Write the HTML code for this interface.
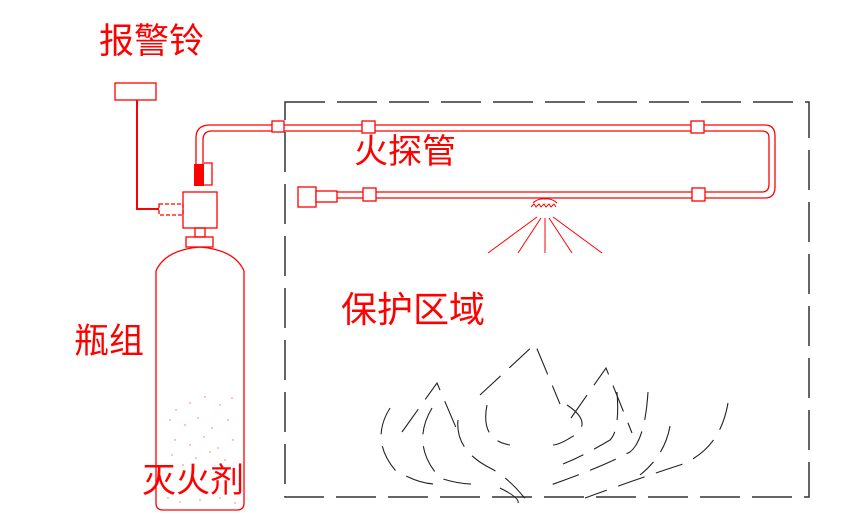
<!DOCTYPE html>
<html><head><meta charset="utf-8"><style>
html,body{margin:0;padding:0;background:#fff;}
svg{display:block;}
text{font-family:"Liberation Sans","Noto Sans CJK SC",sans-serif;fill:#f00;}
</style></head><body>
<svg width="857" height="525" viewBox="0 0 857 525" xmlns="http://www.w3.org/2000/svg">
<rect x="0" y="0" width="857" height="525" fill="#fff"/>
<rect x="285" y="102" width="524" height="395" fill="none" stroke="#333" stroke-width="1.5" stroke-dasharray="40,12"/>
<g fill="none" stroke="#f00" stroke-width="1.3">
<rect x="115" y="83" width="41" height="17"/>
<path d="M137 100 V209 H159" stroke-width="2"/>
<rect x="159" y="204" width="24" height="11" stroke-dasharray="4,2"/>
<rect x="183" y="192" width="34" height="36"/>
<rect x="195" y="228" width="10" height="9"/>
<rect x="186" y="237" width="27" height="10"/>
<path d="M156 271 Q165 250 200 247 Q235 250 244 271 V503 Q244 510 237 510 H163 Q156 510 156 503 Z"/>
<path d="M196 164 V138 Q196 125 210 125 H765 Q775 125 775 136 V187 Q775 198 765 198 H337"/>
<path d="M203 164 V140 Q203 131 212 131 H762 Q769 131 769 138 V184 Q769 192 762 192 H337"/>
<rect x="272" y="121" width="12" height="11" fill="#fff"/>
<rect x="362" y="121" width="13" height="12" fill="#fff"/>
<rect x="691" y="121" width="13" height="12" fill="#fff"/>
<rect x="363" y="188" width="13" height="13" fill="#fff"/>
<rect x="692" y="188" width="13" height="13" fill="#fff"/>
<rect x="298" y="187" width="18" height="20" fill="#fff"/>
<rect x="316" y="191" width="21" height="11" fill="#fff"/>
<path d="M204 163 H212 V185 H204"/>
<path d="M533 203 Q538 198 545 199 Q552 198 557 203" stroke-width="1"/>
<path d="M531 207 l3 -3 l2 3 l3 -3 l2 3 l3 -3 l2 3 l3 -3 l2 3 l3 -3 l2 3" stroke-width="1"/>
<path d="M537 217 L488 253 M541 218 L518 253 M545 218 L545 253 M549 218 L572 253 M553 217 L602 253" stroke-width="1"/>
</g>
<rect x="194" y="164" width="10" height="22" fill="#f00"/>
<g fill="#f66">
<circle cx="176" cy="410" r=".7"/><circle cx="190" cy="403" r=".7"/><circle cx="205" cy="397" r=".7"/><circle cx="220" cy="405" r=".7"/><circle cx="232" cy="398" r=".7"/>
<circle cx="170" cy="420" r=".7"/><circle cx="185" cy="425" r=".7"/><circle cx="198" cy="418" r=".7"/><circle cx="212" cy="428" r=".7"/><circle cx="228" cy="420" r=".7"/>
<circle cx="175" cy="440" r=".7"/><circle cx="190" cy="445" r=".7"/><circle cx="204" cy="437" r=".7"/><circle cx="218" cy="448" r=".7"/><circle cx="233" cy="440" r=".7"/>
<circle cx="172" cy="455" r=".7"/><circle cx="196" cy="458" r=".7"/><circle cx="210" cy="452" r=".7"/><circle cx="225" cy="460" r=".7"/><circle cx="183" cy="465" r=".7"/>
<circle cx="168" cy="498" r=".7"/><circle cx="180" cy="502" r=".7"/><circle cx="200" cy="500" r=".7"/><circle cx="220" cy="498" r=".7"/><circle cx="235" cy="503" r=".7"/>
</g>
<g fill="none" stroke="#222" stroke-width="1.1" stroke-dasharray="28,12">
<path d="M402 432 L437 383 L457 430"/>
<path d="M480 395 L535 344 L560 404"/>
<path d="M571 418 L606 368 L632 433"/>
<path d="M390 408 Q370 440 395 470 Q420 485 438 484"/>
<path d="M432 408 Q410 445 440 478 Q460 485 480 484"/>
<path d="M458 420 Q455 450 490 468 Q510 478 530 505"/>
<path d="M487 405 Q480 440 510 445 M500 488 Q520 498 518 503"/>
<path d="M567 405 Q590 420 578 433 Q560 445 553 445"/>
<path d="M617 392 Q620 430 610 440 Q585 455 563 464"/>
<path d="M648 392 Q645 440 630 452 Q600 468 545 487"/>
<path d="M670 426 Q665 455 640 475"/>
<path d="M728 403 Q720 450 680 465 Q640 478 585 498"/>
</g>
<text x="99" y="53" font-size="35">报警铃</text>
<text x="354" y="163" font-size="34">火探管</text>
<text x="341" y="322" font-size="36">保护区域</text>
<text x="74" y="353" font-size="35">瓶组</text>
<text x="142" y="492" font-size="34">灭火剂</text>
</svg>
</body></html>
